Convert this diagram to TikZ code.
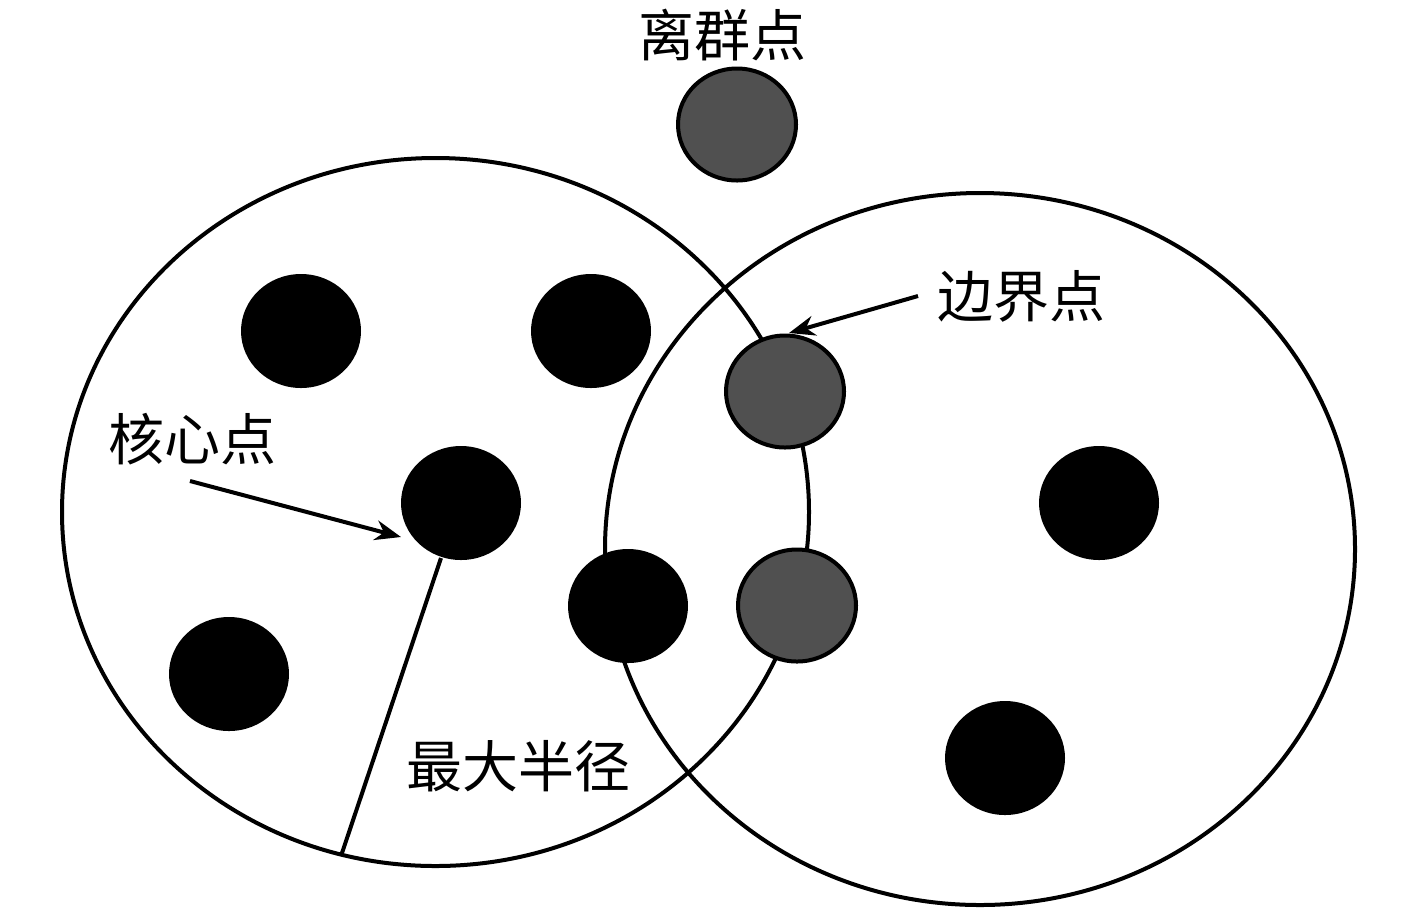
\documentclass[tikz,border=0pt]{standalone}
\usepackage{fontspec}
\newfontfamily\cjk{Noto Sans CJK SC}
\usetikzlibrary{shapes.geometric,arrows.meta}
\begin{document}
\begin{tikzpicture}[x=0.5pt,y=-0.5pt,
  cluster/.style={draw=black,line width=2pt},
  coredot/.style={ellipse,fill=black,minimum width=60pt,minimum height=57pt,inner sep=0pt},
  borderdot/.style={ellipse,draw=black,line width=2pt,fill=darkgray,minimum width=59pt,minimum height=56pt,inner sep=0pt},
  lbl/.style={font=\cjk\fontsize{28}{30}\selectfont,inner sep=0pt},
  pointer/.style={line width=2pt,-{Stealth[length=13pt,width=10pt]}}]
\definecolor{darkgray}{HTML}{505050}
\useasboundingbox (0,0) rectangle (1417,912);
\fill[white] (0,0) rectangle (1417,912);
% clusters
\draw[cluster] (435.5,512) ellipse [x radius=373.5, y radius=354];
\draw[cluster] (980,549) ellipse [x radius=375, y radius=356];
% dots
\node[coredot] (c1) at (301,331) {};
\node[coredot] (c2) at (591,331) {};
\node[coredot] (core) at (461,503) {};
\node[coredot] (c4) at (229,674) {};
\node[coredot] (c5) at (628,606) {};
\node[coredot] (c6) at (1099,503) {};
\node[coredot] (c7) at (1005,758) {};
\node[borderdot] (b1) at (785,391.5) {};
\node[borderdot] (b2) at (797,605.5) {};
\node[borderdot] (out) at (737,124.5) {};
% radius line
\coordinate (rstart) at (441,558);
\coordinate (rend) at (341,856);
\draw[line width=2pt] (rstart) -- (rend);
% labels
\node[lbl] (lout) at (722,35) {离群点};
\node[lbl] (lborder) at (1021,296) {边界点};
\node[lbl] (lcore) at (192,439) {核心点};
\node[lbl] (lrad) at (518,766) {最大半径};
% arrows
\coordinate (a1s) at (190,481);
\coordinate (a1e) at (401,537);
\coordinate (a2s) at (918,296);
\coordinate (a2e) at (789,333);
\draw[pointer] (a1s) -- (a1e);
\draw[pointer] (a2s) -- (a2e);
\end{tikzpicture}
\end{document}
